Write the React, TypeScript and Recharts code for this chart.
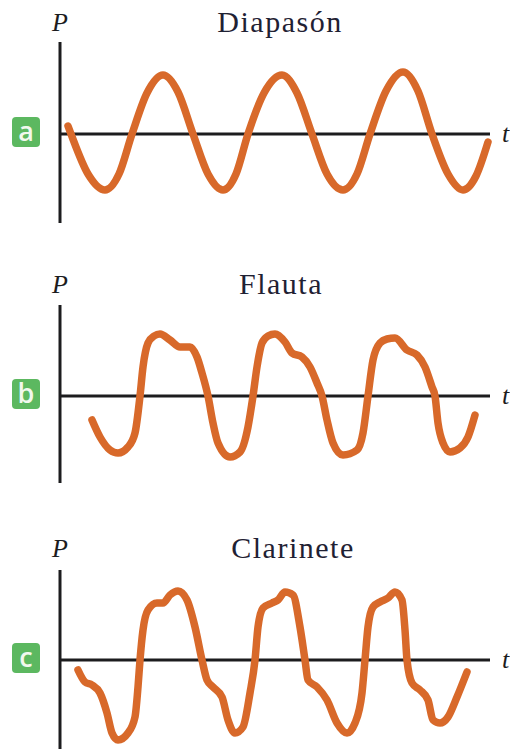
import { LineChart, Line, XAxis, YAxis, ReferenceLine } from "recharts";

type Sample = [number, number];

// pressure P against time t for each source (t: 0..43, P: arbitrary units)
const diapason: Sample[] = [
  [0.8, 0.8], [1.1, 0], [2.8, -4.0], [4.5, -5.6], [5.9, -4.0], [7.2, 0],
  [8.7, 4.1], [10.3, 5.9], [11.8, 4.2], [13.3, 0], [14.8, -4.0], [16.3, -5.6],
  [17.6, -4.0], [18.8, 0], [20.4, 4.1], [22.2, 5.9], [23.7, 4.1], [25.2, 0],
  [26.7, -4.0], [28.3, -5.6], [29.7, -4.0], [31.0, 0], [32.6, 4.3], [34.3, 6.2],
  [35.8, 4.3], [37.2, 0], [38.8, -4.0], [40.3, -5.6], [41.6, -4.2], [42.8, -0.8],
];

const flauta: Sample[] = [
  [3.2, -2.4], [4.0, -4.1], [5.0, -5.4], [5.8, -5.7], [6.8, -5.1], [7.5, -3.7],
  [8.0, 0], [8.3, 2.9], [8.8, 5.3], [9.4, 6.0], [10.0, 6.2], [11.0, 5.6],
  [12.0, 4.9], [13.0, 4.9], [13.7, 3.9], [14.2, 2.3], [14.8, 0], [15.3, -2.7],
  [15.8, -4.7], [17.0, -6.1], [18.0, -5.6], [18.8, -3.1], [19.3, 0], [19.7, 2.9],
  [20.2, 5.3], [20.8, 6.0], [21.5, 6.2], [22.5, 5.4], [23.2, 4.3], [24.2, 3.9],
  [25.0, 2.9], [25.7, 1.3], [26.2, 0], [26.7, -2.4], [27.3, -4.7], [28.3, -5.9],
  [29.7, -5.4], [30.3, -3.7], [30.8, 0], [31.3, 3.6], [32.0, 5.3], [32.7, 5.7],
  [33.5, 5.8], [34.7, 4.6], [35.7, 4.1], [36.5, 2.9], [37.2, 0.9], [37.5, 0],
  [37.8, -2.7], [38.3, -4.7], [39.0, -5.6], [40.0, -5.2], [40.8, -4.1], [41.5, -1.9],
];

const clarinete: Sample[] = [
  [1.8, -1.0], [2.5, -2.2], [3.2, -2.5], [4.0, -3.3], [4.7, -5.3], [5.2, -7.3],
  [5.8, -8.0], [6.8, -7.3], [7.5, -5.7], [7.8, -2.7], [8.0, 0], [8.3, 3.0],
  [8.8, 5.0], [9.7, 5.7], [10.3, 5.7], [11.0, 6.5], [11.8, 6.9], [12.7, 6.0],
  [13.5, 3.3], [14.2, 0], [14.7, -2.0], [15.3, -2.7], [16.2, -3.7], [16.8, -6.0],
  [17.5, -7.3], [18.3, -6.7], [19.0, -3.3], [19.5, 0], [19.8, 3.3], [20.3, 5.2],
  [21.2, 5.7], [21.8, 6.0], [22.5, 6.8], [23.3, 6.5], [24.0, 3.3], [24.5, 0],
  [24.8, -2.0], [25.7, -2.7], [26.7, -4.0], [27.7, -6.3], [28.7, -7.3], [29.5, -6.3],
  [30.2, -3.3], [30.5, 0], [30.8, 3.3], [31.3, 5.3], [32.0, 5.8], [32.8, 6.2],
  [33.5, 6.8], [34.2, 6.0], [34.5, 3.0], [34.7, 0], [35.2, -2.3], [36.0, -3.0],
  [36.8, -4.0], [37.3, -6.0], [38.0, -6.3], [38.8, -5.7], [39.7, -3.7], [40.7, -1.2],
];

const titles = ["Diapasón", "Flauta", "Clarinete"];
const badges = ["a", "b", "c"];

const ORANGE = "#d8692a";
const INK = "#1c1c1e";
const GREEN = "#5cb860";
const SERIF = "'Liberation Serif', 'Times New Roman', serif";

type PanelProps = {
  samples: Sample[];
  title: string;
  badge: string;
  top: number;
  height: number;
  margin: { top: number; right: number; bottom: number; left: number };
  yDomain: [number, number];
  titleX: number;
};

// badge, axis letters and title, placed relative to the P = 0 line
function panelText(title: string, badge: string, titleX: number) {
  return (props: any) => {
    const vb = props.viewBox ?? {};
    const x0 = vb.x ?? 60;
    const y0 = vb.y ?? 0;
    const w = vb.width ?? 430;
    return (
      <g>
        <rect x={x0 - 48} y={y0 - 17} width={28} height={30} rx={4} fill={GREEN} />
        <text
          x={x0 - 34}
          y={y0 + 7}
          textAnchor="middle"
          fontFamily="'Open Sans', sans-serif"
          fontSize={27}
          fontWeight={600}
          fill="#f1f8ee"
        >
          {badge}
        </text>
        <text x={x0 - 8} y={y0 - 103} fontFamily={SERIF} fontStyle="italic" fontSize={26} fill={INK}>
          P
        </text>
        <text
          x={titleX}
          y={y0 - 102}
          textAnchor="middle"
          fontFamily={SERIF}
          fontSize={30}
          letterSpacing={1.5}
          fill="#1f2133"
        >
          {title}
        </text>
        <text x={x0 + w + 12} y={y0 + 8} fontFamily={SERIF} fontStyle="italic" fontSize={26} fill={INK}>
          t
        </text>
      </g>
    );
  };
}

function WavePanel({ samples, title, badge, top, height, margin, yDomain, titleX }: PanelProps) {
  const rows = samples.map(([t, p]) => ({ t, p }));
  return (
    <div style={{ position: "absolute", left: 0, top }}>
      <LineChart width={510} height={height} data={rows} margin={margin}>
        <XAxis type="number" dataKey="t" domain={[0, 43]} hide />
        <YAxis type="number" domain={yDomain} hide />
        <ReferenceLine x={0} stroke={INK} strokeWidth={3} />
        <ReferenceLine y={0} stroke={INK} strokeWidth={3} label={panelText(title, badge, titleX)} />
        <Line
          type="monotone"
          dataKey="p"
          stroke={ORANGE}
          strokeWidth={7.5}
          strokeLinecap="round"
          strokeLinejoin="round"
          dot={false}
          activeDot={false}
          isAnimationActive={false}
        />
      </LineChart>
    </div>
  );
}

export default function App() {
  return (
    <div style={{ position: "absolute", left: 0, top: 0, width: 510, height: 749, background: "#fff" }}>
      <WavePanel
        samples={diapason}
        title={titles[0]}
        badge={badges[0]}
        top={0}
        height={250}
        margin={{ top: 42, right: 20, bottom: 27, left: 60 }}
        yDomain={[-8.9, 9.2]}
        titleX={280}
      />
      <WavePanel
        samples={flauta}
        title={titles[1]}
        badge={badges[1]}
        top={250}
        height={250}
        margin={{ top: 55, right: 20, bottom: 17, left: 60 }}
        yDomain={[-8.7, 9.1]}
        titleX={281}
      />
      <WavePanel
        samples={clarinete}
        title={titles[2]}
        badge={badges[2]}
        top={500}
        height={249}
        margin={{ top: 70, right: 20, bottom: 0, left: 60 }}
        yDomain={[-8.9, 9.0]}
        titleX={293}
      />
    </div>
  );
}
